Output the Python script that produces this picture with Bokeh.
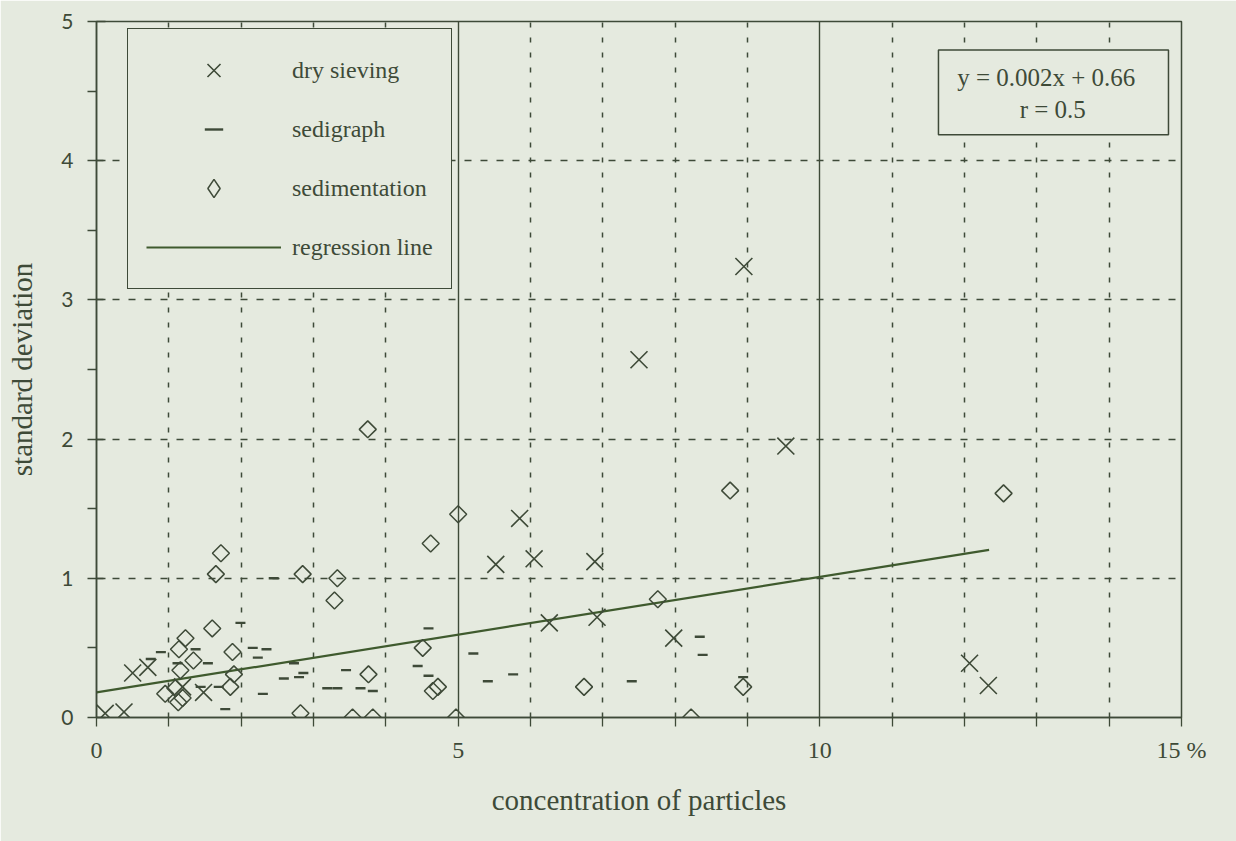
import numpy as np
from bokeh.plotting import figure
from bokeh.models import (FixedTicker, Grid, Legend, LegendItem, BoxAnnotation,
                          Label, Range1d)
from bokeh.embed import file_html
from bokeh.resources import INLINE

# ---- measurements -------------------------------------------------------
# dry sieving (x markers)
dry_x = [0.12, 0.38, 0.50, 0.71, 1.19, 1.48, 5.52, 5.85, 6.05, 6.26, 6.89,
         6.92, 7.50, 7.98, 8.95, 9.53, 12.07, 12.33]
dry_y = [0.03, 0.04, 0.32, 0.36, 0.22, 0.18, 1.10, 1.43, 1.14, 0.68, 1.12,
         0.72, 2.57, 0.57, 3.24, 1.95, 0.39, 0.23]

# sedigraph (short dashes)
sed_x = [0.75, 0.89, 1.12, 1.37, 1.44, 1.54, 1.69, 1.78, 1.99, 2.16, 2.23,
         2.30, 2.35, 2.45, 2.59, 2.73, 2.80, 2.86, 3.19, 3.33, 3.45, 3.65,
         3.82, 4.44, 4.59, 4.59, 5.21, 5.41, 5.76, 7.40, 8.34, 8.38, 8.94]
sed_y = [0.42, 0.47, 0.39, 0.49, 0.22, 0.39, 0.22, 0.06, 0.68, 0.50, 0.43,
         0.17, 0.49, 1.00, 0.28, 0.39, 0.29, 0.32, 0.21, 0.21, 0.34, 0.21,
         0.19, 0.37, 0.64, 0.30, 0.46, 0.26, 0.31, 0.26, 0.58, 0.45, 0.29]

# sedimentation (diamonds)
sdm_x = [0.95, 1.09, 1.13, 1.14, 1.16, 1.19, 1.23, 1.34, 1.60, 1.65, 1.72,
         1.85, 1.88, 1.90, 2.82, 2.85, 3.29, 3.33, 3.54, 3.75, 3.76, 3.82,
         4.51, 4.62, 4.65, 4.72, 4.97, 5.00, 6.74, 7.76, 8.22, 8.76, 8.94,
         12.54]
sdm_y = [0.17, 0.21, 0.11, 0.49, 0.34, 0.14, 0.57, 0.41, 0.64, 1.03, 1.18,
         0.22, 0.47, 0.31, 0.03, 1.03, 0.84, 1.00, 0.00, 2.07, 0.31, 0.00,
         0.50, 1.25, 0.19, 0.22, 0.00, 1.46, 0.22, 0.85, 0.00, 1.63, 0.22,
         1.61]

# fitted line as drawn
reg_slope = 0.083
reg_intercept = 0.18
reg_x_range = [0.0, 12.34]

equation_lines = ["y = 0.002x + 0.66", "r = 0.5"]

x_ticks = list(range(16))
x_tick_labels = {0: "0", 5: "5", 10: "10", 15: "15 %"}
y_ticks = [0, 1, 2, 3, 4, 5]
y_minor_ticks = [0.5, 1.5, 2.5, 3.5, 4.5]

# ---- styling -----------------------------------------------------------
PAPER = "#e5eadf"
INK = "#3e4a38"
SERIF = "Liberation Serif"

p = figure(width=1236, height=841, x_range=Range1d(0, 15), y_range=Range1d(0, 5),
           output_backend="svg", toolbar_location=None,
           min_border_left=96, min_border_right=55, min_border_top=21,
           min_border_bottom=124,
           background_fill_color=PAPER, border_fill_color=PAPER)

p.outline_line_color = INK
p.outline_line_width = 1.5
p.outline_line_alpha = 1.0

# x axis
xa = p.xaxis[0]
xa.ticker = FixedTicker(ticks=x_ticks)
xa.major_label_overrides = {t: x_tick_labels.get(t, "") for t in x_ticks}
xa.major_tick_in = 0
xa.major_tick_out = 9
xa.minor_tick_line_color = None
xa.axis_line_color = INK
xa.axis_line_width = 1.5
xa.major_tick_line_color = INK
xa.major_tick_line_width = 1.3
xa.major_label_text_font = SERIF
xa.major_label_text_font_size = "24px"
xa.major_label_text_color = INK
xa.major_label_standoff = 10
xa.axis_label = "concentration of particles"
xa.axis_label_text_font = SERIF
xa.axis_label_text_font_size = "29px"
xa.axis_label_text_font_style = "normal"
xa.axis_label_text_color = INK
xa.axis_label_standoff = 18

# y axis
ya = p.yaxis[0]
ya.ticker = FixedTicker(ticks=y_ticks, minor_ticks=y_minor_ticks)
ya.major_tick_in = 9
ya.major_tick_out = 9
ya.minor_tick_in = 0
ya.minor_tick_out = 9
ya.axis_line_color = INK
ya.axis_line_width = 1.5
ya.major_tick_line_color = INK
ya.minor_tick_line_color = INK
ya.major_tick_line_width = 1.3
ya.minor_tick_line_width = 1.3
ya.major_label_text_font = "Lato"
ya.major_label_text_font_size = "21px"
ya.major_label_text_color = INK
ya.major_label_standoff = 14
ya.axis_label = "standard deviation"
ya.axis_label_text_font = SERIF
ya.axis_label_text_font_size = "29px"
ya.axis_label_text_font_style = "normal"
ya.axis_label_text_color = INK
ya.axis_label_standoff = 20

# grid: dashed at every unit, solid at 5 and 10
p.xgrid.ticker = FixedTicker(ticks=[t for t in x_ticks[1:-1] if t not in (5, 10)])
p.xgrid.grid_line_color = INK
p.xgrid.grid_line_alpha = 1.0
p.xgrid.grid_line_dash = "5 10"
p.xgrid.grid_line_width = 1.5
p.ygrid.ticker = FixedTicker(ticks=y_ticks[1:-1])
p.ygrid.grid_line_color = INK
p.ygrid.grid_line_alpha = 1.0
p.ygrid.grid_line_dash = "7 9"
p.ygrid.grid_line_width = 1.4
solid_grid = Grid(dimension=0, ticker=FixedTicker(ticks=[5, 10]),
                  grid_line_color=INK, grid_line_width=1.4, grid_line_alpha=1.0)
p.add_layout(solid_grid)

# ---- glyphs ------------------------------------------------------------
reg_x = np.array(reg_x_range)
reg_y = reg_intercept + reg_slope * reg_x
r_reg = p.line(reg_x, reg_y, line_color="#3f5a2e", line_width=2.2)

r_dry = p.scatter(dry_x, dry_y, marker="x", size=24, line_color=INK,
                  line_width=1.6)
r_sed = p.scatter(sed_x, sed_y, marker="dash", size=10, line_color=INK,
                  line_width=2.4)
r_sdm = p.scatter(sdm_x, sdm_y, marker="square", angle=np.pi / 4, size=12,
                  line_color=INK, fill_color=None, line_width=1.5)
# hidden twin of the sedimentation series, only used for its diamond legend key
r_sdm_key = p.scatter(sdm_x, sdm_y, marker="diamond", line_color=INK,
                      fill_color=None, line_width=1.5, visible=False)

legend = Legend(items=[
    LegendItem(label="dry sieving", renderers=[r_dry]),
    LegendItem(label="sedigraph", renderers=[r_sed]),
    LegendItem(label="sedimentation", renderers=[r_sdm_key]),
    LegendItem(label="regression line", renderers=[r_reg]),
], location=(31, 428), orientation="vertical",
    glyph_width=135, glyph_height=46, label_height=24, spacing=13,
    padding=18, margin=0, label_standoff=11,
    label_text_font=SERIF, label_text_font_size="24px", label_text_color=INK,
    border_line_color=INK, border_line_width=1.5, border_line_alpha=1.0,
    background_fill_color=PAPER, background_fill_alpha=1.0)
p.add_layout(legend)

# regression equation box
eq_box = BoxAnnotation(left=11.64, right=14.82, top=4.796, bottom=4.186,
                       fill_color=PAPER, fill_alpha=1.0, line_color=INK,
                       line_alpha=1.0, line_width=1.5)
p.add_layout(eq_box)
p.add_layout(Label(x=13.13, y=4.60, text=equation_lines[0], text_align="center",
                   text_baseline="middle", text_font=SERIF,
                   text_font_size="25px", text_color=INK))
p.add_layout(Label(x=13.22, y=4.366, text=equation_lines[1], text_align="center",
                   text_baseline="middle", text_font=SERIF,
                   text_font_size="25px", text_color=INK))

open("out.html", "w").write(file_html(p, INLINE))
